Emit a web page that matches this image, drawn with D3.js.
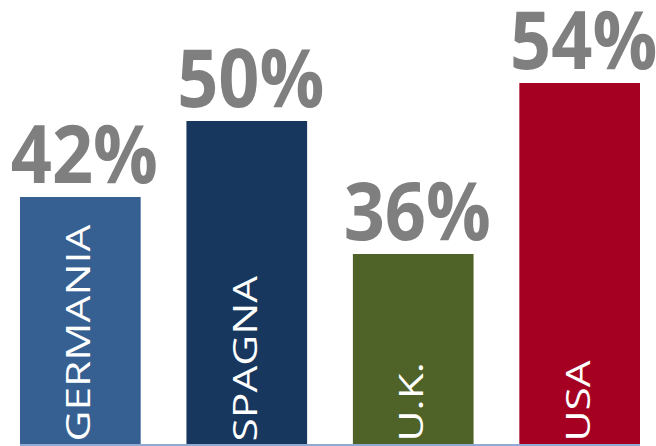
<!DOCTYPE html>
<html>
<head>
<meta charset="utf-8">
<script src="https://cdn.jsdelivr.net/npm/d3@7"></script>
<style>
  html, body { margin: 0; padding: 0; background: #ffffff; }
  svg { display: block; }
</style>
</head>
<body>
<svg id="chart" width="656" height="446"></svg>
<script>
// Data
const categories = ["GERMANIA", "SPAGNA", "U.K.", "USA"];
const values = [42, 50, 36, 54];
const valueLabels = ["42%", "50%", "36%", "54%"];
const colors = ["#376092", "#17375e", "#4f6228", "#a50021"];

const svg = d3.select("#chart");
const base = 444;

const x = d3.scaleBand()
  .domain(categories)
  .range([20, 640])
  .paddingInner(0.275)
  .paddingOuter(0);

const y = d3.scaleLinear()
  .domain([16, 54])
  .range([base, 83]);

const data = categories.map((c, i) => ({ c, v: values[i], label: valueLabels[i], color: colors[i] }));

// Bars
svg.selectAll("rect.bar")
  .data(data)
  .join("rect")
  .attr("class", "bar")
  .attr("x", d => x(d.c))
  .attr("width", x.bandwidth())
  .attr("y", d => y(d.v))
  .attr("height", d => base - y(d.v))
  .attr("fill", d => d.color);

// Baseline
svg.append("line")
  .attr("x1", x.range()[0])
  .attr("x2", x.range()[1])
  .attr("y1", base + 1)
  .attr("y2", base + 1)
  .attr("stroke", "#6a8fc4")
  .attr("stroke-width", 1.5);

// Value labels
svg.selectAll("text.val")
  .data(data)
  .join("text")
  .attr("class", "val")
  .attr("transform", d => `translate(${x(d.c) + x.bandwidth() / 2 + 4},${y(d.v) - 14}) scale(0.9,1)`)
  .attr("text-anchor", "middle")
  .attr("font-family", "'Open Sans', 'Noto Sans', sans-serif")
  .attr("font-weight", 700)
  .attr("font-size", 80)
  .attr("fill", "#7f7f7f")
  .text(d => d.label);

// Category labels (rotated, inside bars)
svg.selectAll("text.cat")
  .data(data)
  .join("text")
  .attr("class", "cat")
  .attr("transform", d => `translate(${x(d.c) + x.bandwidth() / 2},${base}) rotate(-90) scale(1.27,1)`)
  .attr("x", 2)
  .attr("y", 10)
  .attr("text-anchor", "start")
  .attr("font-family", "'Open Sans', 'Noto Sans', sans-serif")
  .attr("font-weight", 400)
  .attr("font-size", 33.5)
  .attr("fill", "#ffffff")
  .text(d => d.c);
</script>
</body>
</html>
